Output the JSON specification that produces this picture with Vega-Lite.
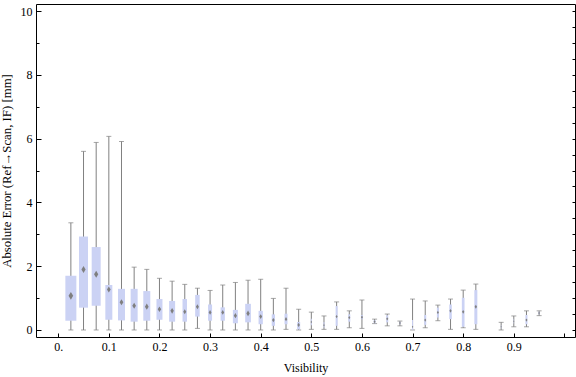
{
  "$schema": "https://vega.github.io/schema/vega-lite/v6.json",
  "autosize": "none",
  "width": 539,
  "height": 333,
  "padding": {"left": 36, "top": 4, "right": 1, "bottom": 40},
  "background": "white",
  "config": {
    "view": {"stroke": "#000000", "strokeWidth": 1},
    "font": "Liberation Serif",
    "axis": {
      "labelFont": "Liberation Serif",
      "titleFont": "Liberation Serif",
      "labelFontSize": 12,
      "titleFontSize": 12,
      "titleFontWeight": "normal",
      "labelColor": "#000000",
      "titleColor": "#000000",
      "tickColor": "#000000",
      "domain": false,
      "grid": false
    }
  },
  "data": {
    "values": [
      {"visibility": 0.025, "lower": 0, "q1": 0.29, "median": 1.07, "q3": 1.70, "upper": 3.36, "n": 11},
      {"visibility": 0.05, "lower": 0, "q1": 0.70, "median": 1.90, "q3": 2.93, "upper": 5.60, "n": 9},
      {"visibility": 0.075, "lower": 0, "q1": 0.76, "median": 1.75, "q3": 2.60, "upper": 5.88, "n": 9},
      {"visibility": 0.1, "lower": 0, "q1": 0.32, "median": 1.27, "q3": 1.41, "upper": 6.07, "n": 7},
      {"visibility": 0.125, "lower": 0, "q1": 0.30, "median": 0.87, "q3": 1.29, "upper": 5.91, "n": 7},
      {"visibility": 0.15, "lower": 0, "q1": 0.26, "median": 0.76, "q3": 1.29, "upper": 1.97, "n": 7},
      {"visibility": 0.175, "lower": 0, "q1": 0.29, "median": 0.73, "q3": 1.22, "upper": 1.90, "n": 7},
      {"visibility": 0.2, "lower": 0, "q1": 0.32, "median": 0.65, "q3": 0.97, "upper": 1.62, "n": 6},
      {"visibility": 0.225, "lower": 0, "q1": 0.26, "median": 0.60, "q3": 0.91, "upper": 1.53, "n": 6},
      {"visibility": 0.25, "lower": 0, "q1": 0.26, "median": 0.57, "q3": 0.97, "upper": 1.43, "n": 4.5},
      {"visibility": 0.275, "lower": 0.05, "q1": 0.42, "median": 0.73, "q3": 1.10, "upper": 1.31, "n": 4.5},
      {"visibility": 0.3, "lower": 0, "q1": 0.29, "median": 0.55, "q3": 0.80, "upper": 1.24, "n": 4},
      {"visibility": 0.325, "lower": 0, "q1": 0.29, "median": 0.55, "q3": 0.71, "upper": 1.41, "n": 4.3},
      {"visibility": 0.35, "lower": 0, "q1": 0.21, "median": 0.45, "q3": 0.63, "upper": 1.49, "n": 5},
      {"visibility": 0.375, "lower": 0, "q1": 0.24, "median": 0.52, "q3": 0.82, "upper": 1.56, "n": 5.7},
      {"visibility": 0.4, "lower": 0, "q1": 0.18, "median": 0.42, "q3": 0.60, "upper": 1.59, "n": 4.3},
      {"visibility": 0.425, "lower": 0, "q1": 0.13, "median": 0.31, "q3": 0.49, "upper": 0.99, "n": 3.3},
      {"visibility": 0.45, "lower": 0.02, "q1": 0.18, "median": 0.34, "q3": 0.51, "upper": 1.31, "n": 3},
      {"visibility": 0.475, "lower": 0, "q1": 0.02, "median": 0.16, "q3": 0.25, "upper": 0.65, "n": 3},
      {"visibility": 0.5, "lower": 0.02, "q1": 0.15, "median": 0.25, "q3": 0.35, "upper": 0.56, "n": 1},
      {"visibility": 0.525, "lower": 0.02, "q1": 0.08, "median": 0.15, "q3": 0.25, "upper": 0.44, "n": 1},
      {"visibility": 0.55, "lower": 0.02, "q1": 0.13, "median": 0.42, "q3": 0.75, "upper": 0.88, "n": 2},
      {"visibility": 0.575, "lower": 0.07, "q1": 0.26, "median": 0.39, "q3": 0.49, "upper": 0.60, "n": 2},
      {"visibility": 0.6, "lower": 0.05, "q1": 0.34, "median": 0.40, "q3": 0.47, "upper": 0.94, "n": 2},
      {"visibility": 0.625, "lower": 0.20, "q1": 0.21, "median": 0.26, "q3": 0.31, "upper": 0.34, "n": 2},
      {"visibility": 0.65, "lower": 0.13, "q1": 0.24, "median": 0.35, "q3": 0.46, "upper": 0.50, "n": 2},
      {"visibility": 0.675, "lower": 0.13, "q1": 0.18, "median": 0.22, "q3": 0.26, "upper": 0.28, "n": 1.5},
      {"visibility": 0.7, "lower": 0, "q1": 0, "median": 0.10, "q3": 0.31, "upper": 0.97, "n": 1},
      {"visibility": 0.725, "lower": 0.07, "q1": 0.16, "median": 0.31, "q3": 0.47, "upper": 0.91, "n": 2},
      {"visibility": 0.75, "lower": 0.29, "q1": 0.39, "median": 0.55, "q3": 0.70, "upper": 0.78, "n": 2},
      {"visibility": 0.775, "lower": 0.02, "q1": 0.34, "median": 0.60, "q3": 0.80, "upper": 0.97, "n": 2.5},
      {"visibility": 0.8, "lower": 0.07, "q1": 0.10, "median": 0.57, "q3": 1.01, "upper": 1.25, "n": 2.7},
      {"visibility": 0.825, "lower": 0.02, "q1": 0.18, "median": 0.73, "q3": 1.25, "upper": 1.44, "n": 3},
      {"visibility": 0.875, "lower": 0, "q1": 0.05, "median": 0.10, "q3": 0.15, "upper": 0.24, "n": 0.5},
      {"visibility": 0.9, "lower": 0.10, "q1": 0.20, "median": 0.27, "q3": 0.35, "upper": 0.44, "n": 0.5},
      {"visibility": 0.925, "lower": 0.10, "q1": 0.18, "median": 0.31, "q3": 0.47, "upper": 0.60, "n": 2},
      {"visibility": 0.95, "lower": 0.45, "q1": 0.49, "median": 0.53, "q3": 0.57, "upper": 0.60, "n": 1.5}
    ]
  },
  "resolve": {"scale": {"size": "independent"}, "axis": {"y": "independent"}},
  "layer": [
    {
      "mark": {"type": "rule", "color": "#808080", "strokeWidth": 1},
      "encoding": {
        "x": {
          "field": "visibility", "type": "quantitative",
          "scale": {"domain": [-0.034, 1.011], "nice": false, "zero": false},
          "axis": {
            "title": "Visibility",
            "values": [0,0.025,0.05,0.075,0.1,0.125,0.15,0.175,0.2,0.225,0.25,0.275,0.3,0.325,0.35,0.375,0.4,0.425,0.45,0.475,0.5,0.525,0.55,0.575,0.6,0.625,0.65,0.675,0.7,0.725,0.75,0.775,0.8,0.825,0.85,0.875,0.9,0.925,0.95,0.975,1],
            "labelExpr": "abs(datum.value*10 - round(datum.value*10)) < 0.001 && datum.value < 0.95 ? (datum.value == 0 ? '0.' : format(datum.value, '.1f')) : ''",
            "tickSize": {"condition": {"test": "abs(datum.value*10 - round(datum.value*10)) < 0.001", "value": -4}, "value": -3},
            "labelPadding": 8,
            "titlePadding": 10,
            "labelOverlap": false,
            "labelFlush": false
          }
        },
        "y": {
          "field": "lower", "type": "quantitative",
          "scale": {"domain": [-0.22, 10.22], "nice": false, "zero": false},
          "axis": {
            "orient": "left",
            "title": "Absolute Error (Ref→Scan, IF) [mm]",
            "titleFontSize": 12.8,
            "values": [0,1,2,3,4,5,6,7,8,9,10],
            "labelExpr": "datum.value % 2 == 0 ? datum.label : ''",
            "tickSize": {"condition": {"test": "datum.value % 2 == 0", "value": -5}, "value": -3},
            "labelPadding": 9,
            "titlePadding": 7,
            "labelOverlap": false
          }
        },
        "y2": {"field": "upper"}
      }
    },
    {
      "mark": {"type": "tick", "orient": "horizontal", "color": "#808080", "size": 5, "thickness": 1},
      "encoding": {
        "x": {"field": "visibility", "type": "quantitative"},
        "y": {
          "field": "lower", "type": "quantitative",
          "axis": {
            "orient": "right",
            "title": null,
            "labels": false,
            "values": [0,0.5,1,1.5,2,2.5,3,3.5,4,4.5,5,5.5,6,6.5,7,7.5,8,8.5,9,9.5,10],
            "tickSize": -3
          }
        }
      }
    },
    {
      "mark": {"type": "tick", "orient": "horizontal", "color": "#808080", "size": 5, "thickness": 1},
      "encoding": {
        "x": {"field": "visibility", "type": "quantitative"},
        "y": {"field": "upper", "type": "quantitative", "axis": null}
      }
    },
    {
      "mark": {"type": "bar", "color": "#cbd2f4"},
      "encoding": {
        "x": {"field": "visibility", "type": "quantitative"},
        "y": {"field": "q1", "type": "quantitative", "axis": null},
        "y2": {"field": "q3"},
        "size": {"field": "n", "type": "quantitative", "scale": {"domain": [0, 11], "range": [0, 11]}, "legend": null}
      }
    },
    {
      "mark": {"type": "point", "shape": "M0,-1L0.6,0L0,1L-0.6,0Z", "filled": true, "color": "#7f7f7f", "opacity": 1},
      "encoding": {
        "x": {"field": "visibility", "type": "quantitative"},
        "y": {"field": "median", "type": "quantitative", "axis": null},
        "size": {"field": "n", "type": "quantitative", "scale": {"domain": [0, 11], "range": [0, 60]}, "legend": null}
      }
    }
  ]
}
